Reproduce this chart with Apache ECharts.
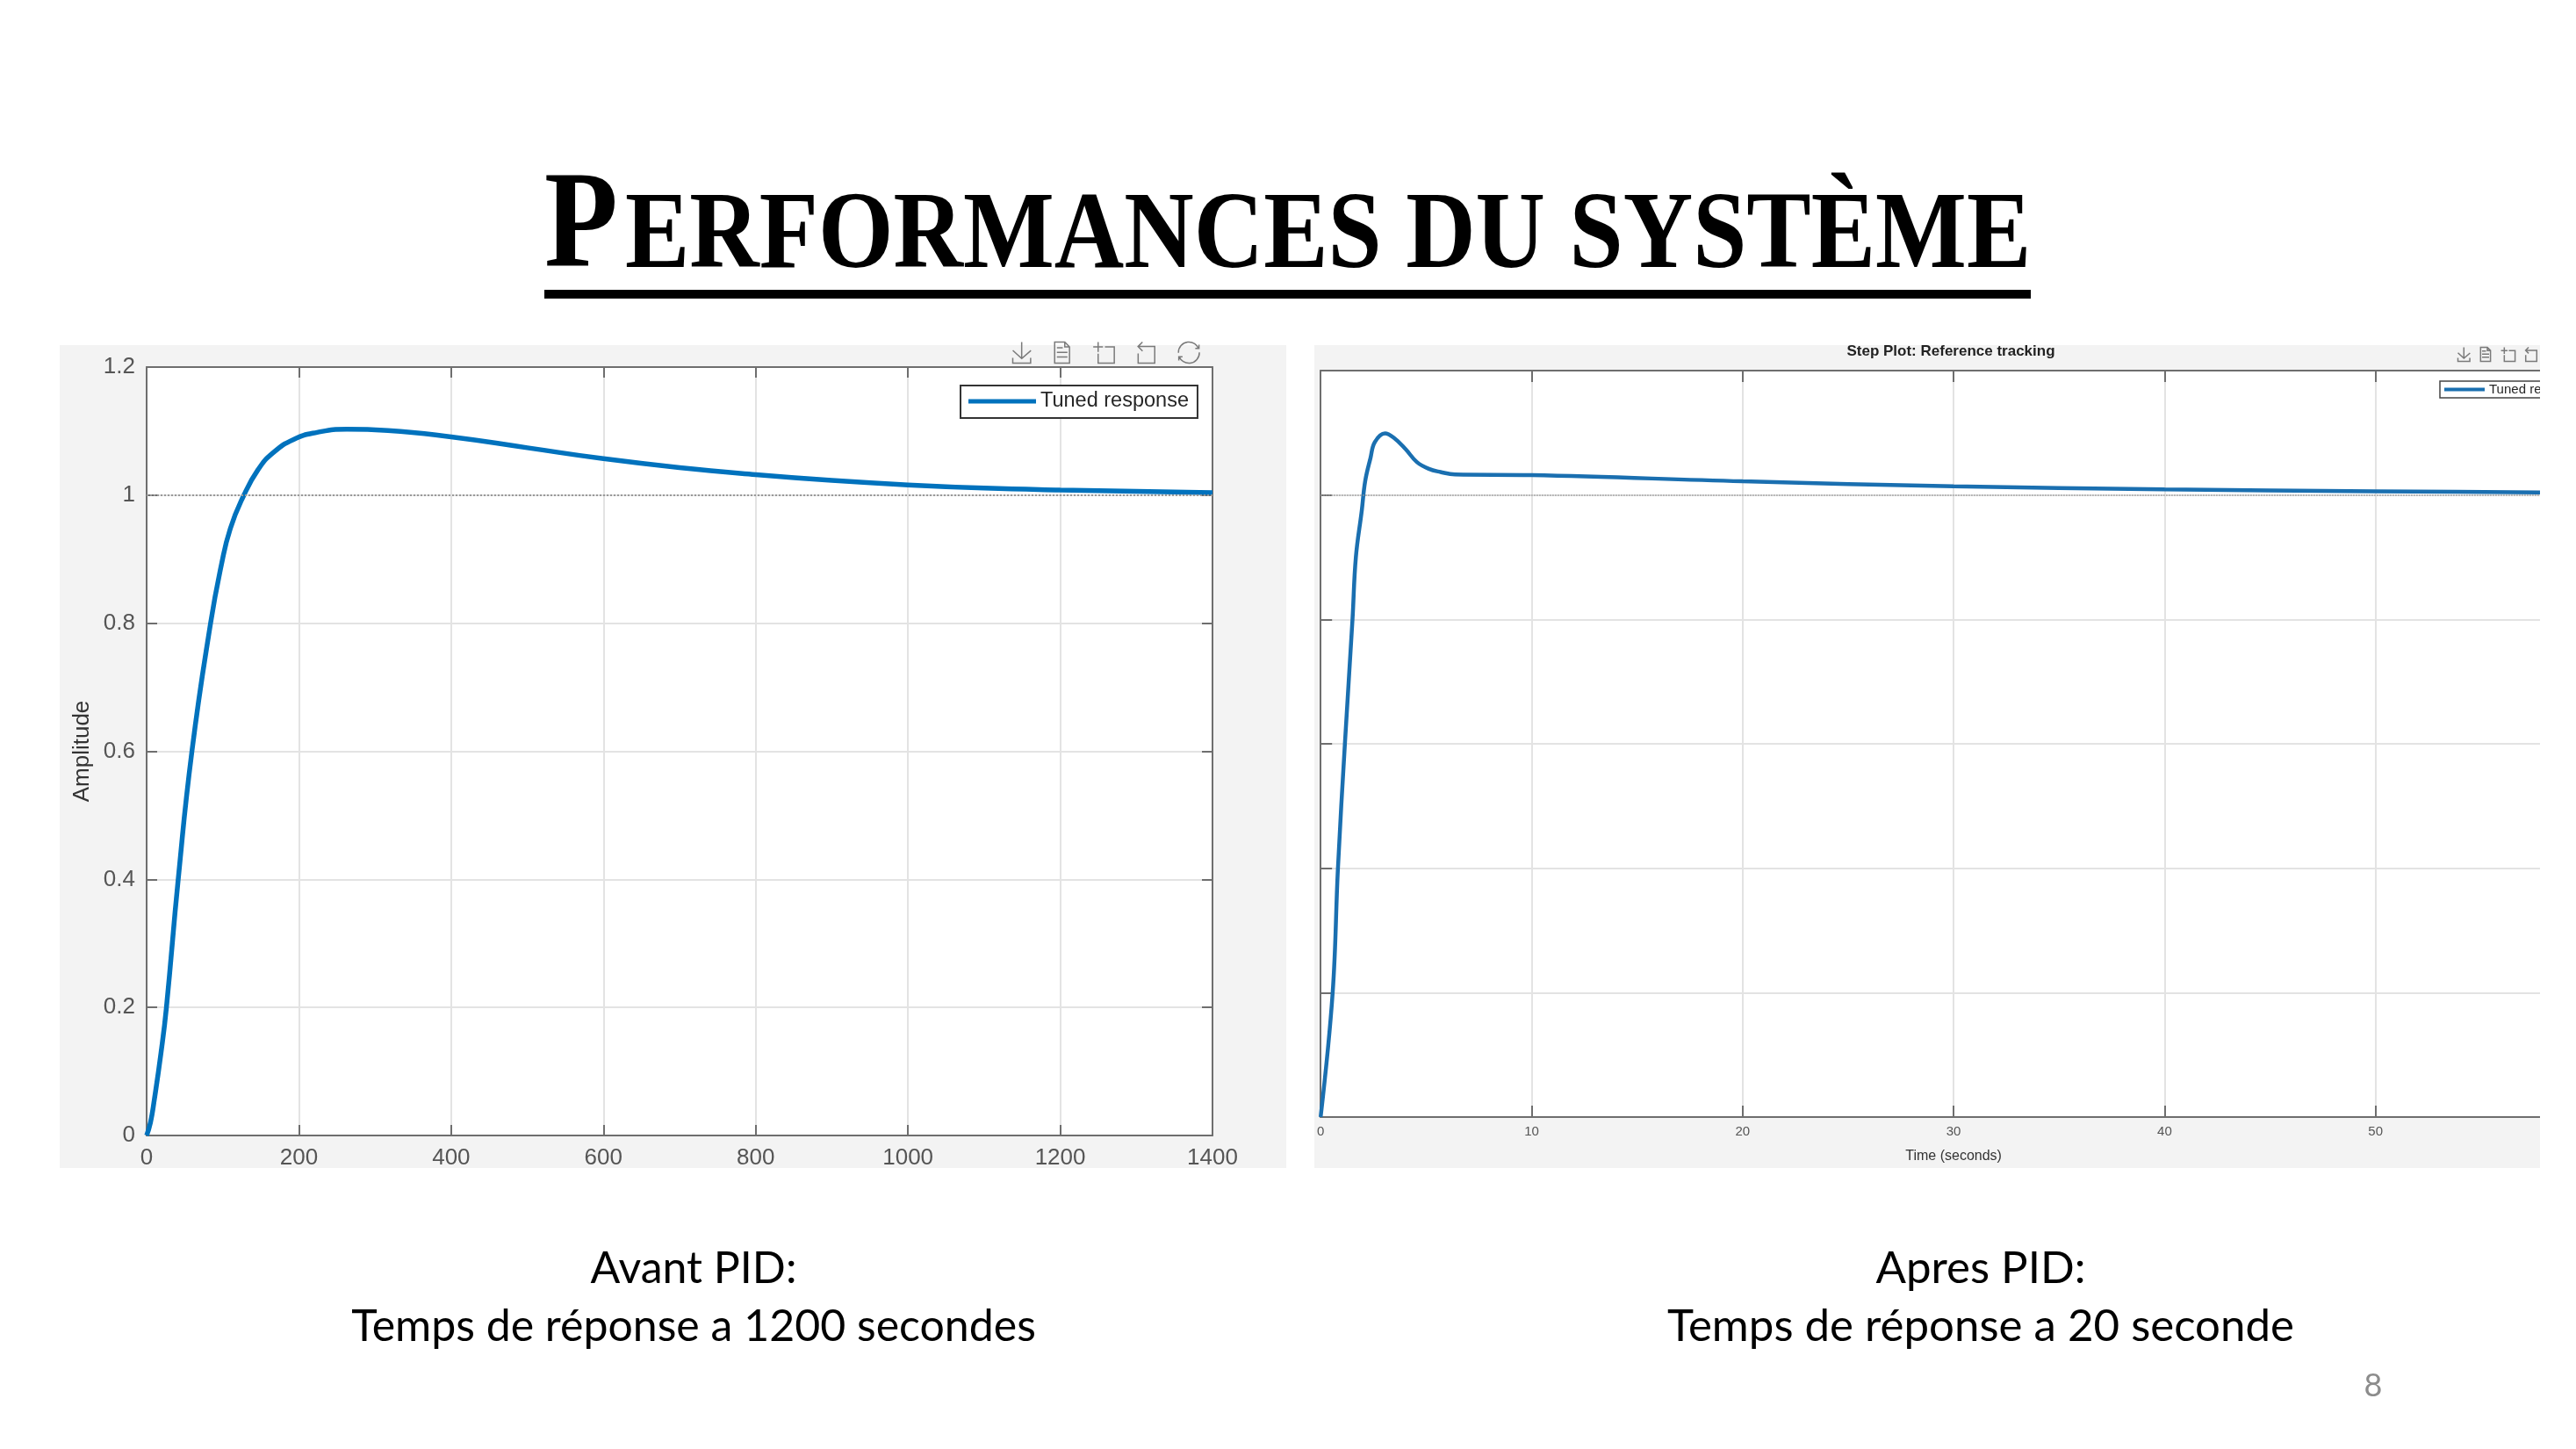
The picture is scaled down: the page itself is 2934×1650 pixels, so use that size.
<!DOCTYPE html>
<html>
<head>
<meta charset="utf-8">
<script src="https://cdn.jsdelivr.net/npm/echarts@6/dist/echarts.min.js"></script>
<style>
html, body { margin: 0; padding: 0; background: #fff; }
#page { position: absolute; left: 0; top: 0; width: 2934px; height: 1650px; }
#apresClip { position: absolute; left: 1497px; top: 393px; width: 1396px; height: 937px; overflow: hidden; background: #f3f3f3; }
#apres { position: absolute; left: 0; top: 0; width: 1500px; height: 937px; }
</style>
</head>
<body>
<div id="page"></div>
<div id="apresClip"><div id="apres"></div></div>
<script>
// reponse indicielle avant PID (temps en secondes)
var avantTemps = [0, 5, 10, 19, 26, 41.5, 59.5, 84, 98, 110, 127, 146.5, 166, 193, 224, 263, 317, 400, 500, 600, 700, 800, 900, 1000, 1100, 1200, 1300, 1400];
var avantAmpl  = [0, 0.02, 0.055, 0.13, 0.2, 0.4, 0.6, 0.8, 0.89, 0.948, 0.998, 1.04, 1.066, 1.087, 1.098, 1.103, 1.101, 1.091, 1.074, 1.057, 1.043, 1.032, 1.023, 1.016, 1.011, 1.008, 1.006, 1.004];

// reponse indicielle apres PID
var apresTemps = [0, 0.57, 0.82, 1.15, 1.51, 1.67, 1.95, 2.11, 2.36, 2.57, 3.05, 3.47, 4.02, 4.56, 5.13, 5.68, 6.37, 10, 20, 30, 40, 50, 57.7, 60];
var apresAmpl  = [0, 0.2, 0.4, 0.6, 0.8, 0.9, 0.975, 1.022, 1.059, 1.085, 1.099, 1.092, 1.074, 1.053, 1.042, 1.037, 1.033, 1.032, 1.022, 1.014, 1.009, 1.006, 1.004, 1.003];

var consigne = 1;
var nomSerie = 'Tuned response';

function paires(xs, ys) {
	return xs.map(function (x, i) { return [x, ys[i]]; });
}

var axeGris = '#6e6e6e';
var grille = '#e3e3e3';

function axe(extra, lab, tickLen, w) {
	var a = {
		type: 'value',
		axisLine: { onZero: false, lineStyle: { color: axeGris, width: w } },
		axisTick: { inside: true, length: tickLen, lineStyle: { color: axeGris, width: w } },
		axisLabel: lab,
		splitLine: { lineStyle: { color: grille, width: w } }
	};
	for (var k in extra) a[k] = extra[k];
	return a;
}

// pas de separateur de milliers (1400 et non 1,400)
function brut(v) { return String(v); }

// barre d'outils grise facon matlab
function outils(left, top, size, gap) {
	return {
		left: left, top: top, itemSize: size, itemGap: gap,
		iconStyle: { borderColor: '#7a7a7a', borderWidth: 1.5 },
		feature: { saveAsImage: {}, dataView: { readOnly: true }, dataZoom: {}, restore: {} }
	};
}

// ---- page + graphique "avant" ----
var page = echarts.init(document.getElementById('page'));
var labAvant = { color: '#555', fontSize: 26, fontFamily: 'Liberation Sans', margin: 13, formatter: brut };

page.setOption({
	backgroundColor: '#fff',
	animation: false,
	graphic: [
		{ type: 'rect', z: -10, shape: { x: 68, y: 393, width: 1397, height: 937 }, style: { fill: '#f3f3f3' } },
		{ type: 'text', x: 620, y: 261, scaleX: 0.874,
			style: { text: 'P', fontFamily: 'Liberation Serif', fontWeight: 'bold', fontSize: 157, fill: '#000', align: 'left', verticalAlign: 'middle' } },
		{ type: 'text', x: 712, y: 271.5, scaleX: 0.88,
			style: { text: 'ERFORMANCES DU SYSTÈME', fontFamily: 'Liberation Serif', fontWeight: 'bold', fontSize: 125, fill: '#000', align: 'left', verticalAlign: 'middle' } },
		{ type: 'rect', shape: { x: 620, y: 330, width: 1693, height: 10 }, style: { fill: '#000' } },
		{ type: 'text', x: 790, y: 1478,
			style: { text: 'Avant PID:\nTemps de réponse a 1200 secondes', fontFamily: 'Lato', fontSize: 50, lineHeight: 66, fill: '#000', align: 'center', verticalAlign: 'middle' } },
		{ type: 'text', x: 2256, y: 1478,
			style: { text: 'Apres PID:\nTemps de réponse a 20 seconde', fontFamily: 'Lato', fontSize: 51, lineHeight: 66, fill: '#000', align: 'center', verticalAlign: 'middle' } },
		{ type: 'text', x: 2703, y: 1578,
			style: { text: '8', fontFamily: 'Lato', fontSize: 36, fill: '#8c8c8c', align: 'center', verticalAlign: 'middle' } }
	],
	toolbox: outils(1136, 372, 24, 22),
	legend: {
		data: [nomSerie],
		left: 1094, top: 439,
		icon: 'rect', itemWidth: 77, itemHeight: 5,
		padding: [6, 10, 7, 9],
		borderColor: '#333', borderWidth: 2, backgroundColor: '#fff',
		textStyle: { fontFamily: 'Liberation Sans', fontSize: 23.5, color: '#262626' }
	},
	grid: { left: 167, top: 418, width: 1214, height: 875, show: true, backgroundColor: '#fff', borderWidth: 0 },
	xAxis: [
		axe({ min: 0, max: 1400, interval: 200 }, labAvant, 12, 2),
		axe({ min: 0, max: 1400, interval: 200, position: 'top', splitLine: { show: false } }, { show: false }, 12, 2)
	],
	yAxis: [
		axe({ min: 0, max: 1.2, interval: 0.2, name: 'Amplitude', nameLocation: 'middle', nameGap: 60,
			nameTextStyle: { fontFamily: 'Liberation Sans', fontSize: 26, color: '#333' } }, labAvant, 12, 2),
		axe({ min: 0, max: 1.2, interval: 0.2, position: 'right', splitLine: { show: false } }, { show: false }, 12, 2)
	],
	series: [{
		name: nomSerie,
		type: 'line',
		data: paires(avantTemps, avantAmpl),
		showSymbol: false,
		smooth: 0.5,
		lineStyle: { color: '#0072bd', width: 5.5 },
		itemStyle: { color: '#0072bd' },
		markLine: {
			silent: true, symbol: 'none', label: { show: false },
			lineStyle: { type: 'dotted', color: '#999', width: 2 },
			data: [{ yAxis: consigne }]
		}
	}]
});

// ---- graphique "apres" (coupe a droite comme la capture) ----
var apres = echarts.init(document.getElementById('apres'));
var labApres = { color: '#555', fontSize: 15, fontFamily: 'Liberation Sans', margin: 9, formatter: brut };

apres.setOption({
	backgroundColor: '#f3f3f3',
	animation: false,
	graphic: [
		{ type: 'text', x: 725, y: 7,
			style: { text: 'Step Plot: Reference tracking', fontFamily: 'Liberation Sans', fontWeight: 'bold', fontSize: 17, fill: '#222', align: 'center', verticalAlign: 'middle' } }
	],
	toolbox: outils(1285, -15, 16, 7),
	legend: {
		data: [nomSerie],
		left: 1282, top: 41,
		icon: 'rect', itemWidth: 46, itemHeight: 4,
		padding: [2, 6, 2, 5],
		borderColor: '#444', borderWidth: 1.5, backgroundColor: '#fff',
		textStyle: { fontFamily: 'Liberation Sans', fontSize: 15, color: '#262626' }
	},
	grid: { left: 1, top: 29, width: 1448, height: 854, show: true, backgroundColor: '#fff', borderWidth: 0 },
	xAxis: [
		axe({ min: 0, max: 60, interval: 10, name: 'Time (seconds)', nameLocation: 'middle', nameGap: 37,
			nameTextStyle: { fontFamily: 'Liberation Sans', fontSize: 16, color: '#333' } }, labApres, 13, 2),
		axe({ min: 0, max: 60, interval: 10, position: 'top', splitLine: { show: false } }, { show: false }, 13, 2)
	],
	yAxis: [
		axe({ min: 0, max: 1.2, interval: 0.2 }, { show: false }, 13, 2)
	],
	series: [{
		name: nomSerie,
		type: 'line',
		data: paires(apresTemps, apresAmpl),
		showSymbol: false,
		smooth: 0.4,
		lineStyle: { color: '#1a6fb0', width: 4.5 },
		itemStyle: { color: '#1a6fb0' },
		markLine: {
			silent: true, symbol: 'none', label: { show: false },
			lineStyle: { type: 'dotted', color: '#999', width: 1.5 },
			data: [{ yAxis: consigne }]
		}
	}]
});
</script>
</body>
</html>
